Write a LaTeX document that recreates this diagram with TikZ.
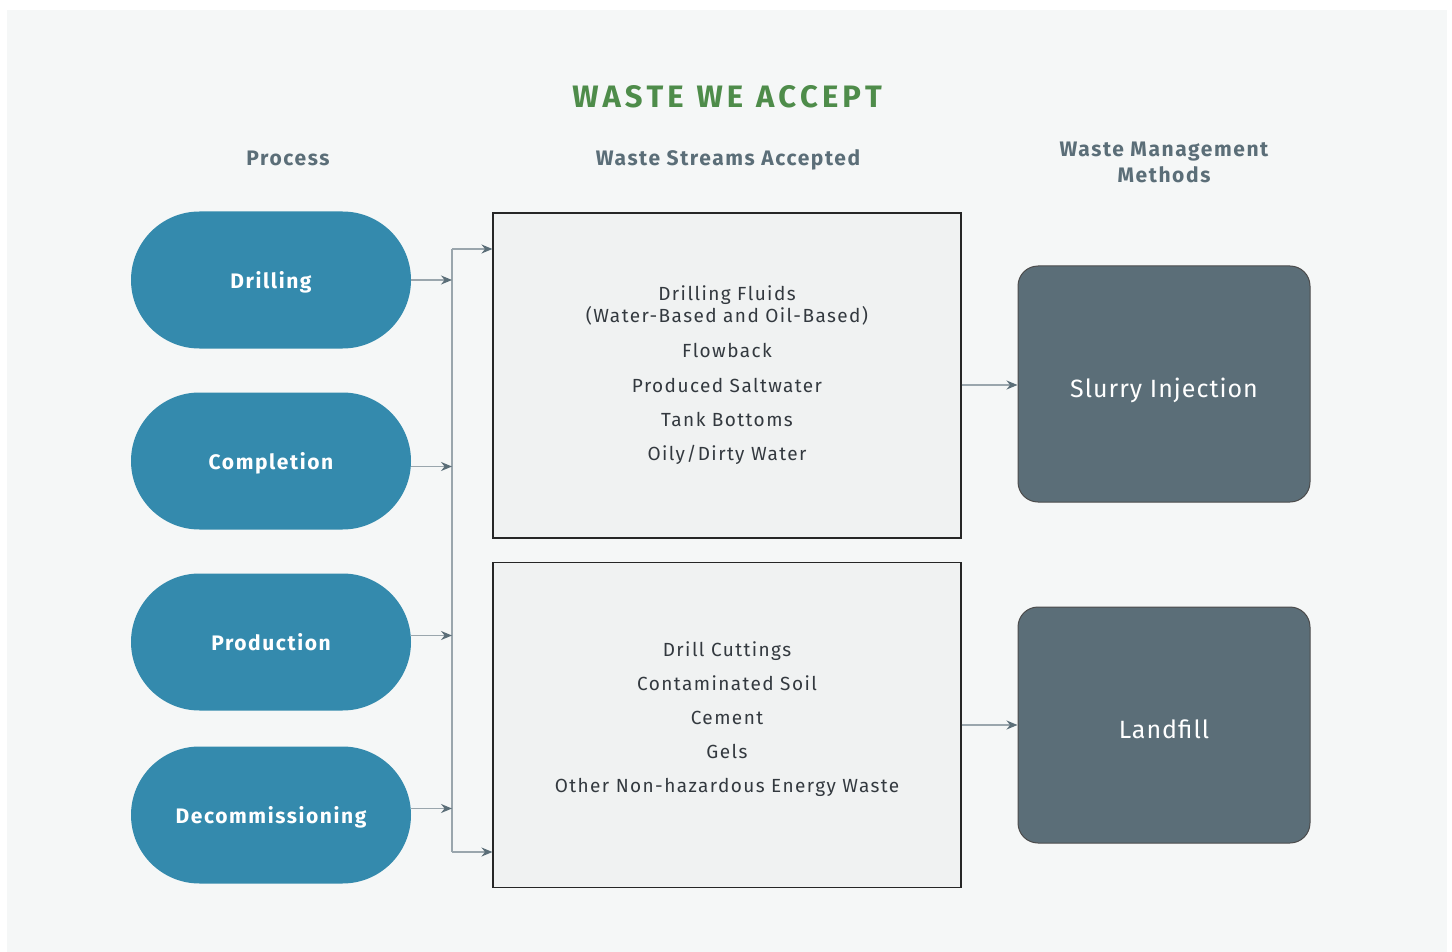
\documentclass[tikz,border=0pt]{standalone}
\usepackage{fontspec}
\setmainfont{Fira Sans}
\usetikzlibrary{arrows.meta,shapes.misc}
\definecolor{bg}{HTML}{F5F7F7}
\definecolor{pill}{HTML}{348AAD}
\definecolor{boxfill}{HTML}{F0F2F2}
\definecolor{method}{HTML}{5B6E78}
\definecolor{head}{HTML}{5B6E78}
\definecolor{titlegreen}{HTML}{4E8C4A}
\definecolor{linec}{HTML}{9AA6AD}
\definecolor{tipc}{HTML}{5B6E78}
\definecolor{txt}{HTML}{33393F}
\newfontfamily\wideface[LetterSpace=7.5]{Fira Sans}
\newfontfamily\midface[LetterSpace=4]{Fira Sans}
\tikzset{
  pillnode/.style={rounded rectangle, fill=pill, minimum width=280, minimum height=137, text=white, font=\wideface\fontsize{21}{24}\selectfont\bfseries, inner sep=0, text height=20pt, text depth=3.5pt},
  streambox/.style={draw=black!85, line width=1.1, fill=boxfill, minimum width=468, minimum height=325, inner sep=0},
  methodbox/.style={draw=black!70, line width=1, fill=method, rounded corners=20, minimum width=292, minimum height=236, inner sep=0},
  methodtext/.style={text=white, font=\midface\fontsize{25}{28}\selectfont},
  heading/.style={text=head, font=\wideface\fontsize{21}{26}\selectfont\bfseries, align=center},
  conn/.style={draw=linec, line width=1.5, -{Stealth[length=11,width=9,fill=tipc,color=tipc]}},
  plainline/.style={draw=linec, line width=1.5},
  itemtext/.style={text=txt, font=\wideface\fontsize{19}{23}\selectfont, align=center},
  singleitem/.style={itemtext, text height=14pt, text depth=4pt}
}
\begin{document}
\begin{tikzpicture}[x=1pt,y=-1pt]
\useasboundingbox (0,0) rectangle (1452,952);
\fill[white] (0,0) rectangle (1452,952);
\fill[bg] (7,10) rectangle (1447,952);
\node[text=titlegreen, font=\fontsize{31}{34}\selectfont\bfseries] (title) at (727,97) {W\kern4pt A\kern4pt S\kern4pt T\kern4pt E\kern13pt W\kern4pt E\kern13pt A\kern4pt C\kern4pt C\kern4pt E\kern4pt P\kern4pt T};
\node[heading] (hproc) at (288,158) {Process};
\node[heading] (hstream) at (728,160) {Waste Streams Accepted};
\node[heading] (hmeth) at (1164,162) {Waste Management\\Methods};
\node[pillnode] (drill) at (271,280) {Drilling};
\node[pillnode] (comp) at (271,461) {Completion};
\node[pillnode] (prod) at (271,642) {Production};
\node[pillnode] (decom) at (271,815) {Decommissioning};
\node[streambox] (box1) at (727,375.5) {};
\node[streambox] (box2) at (727,725) {};
\node[methodbox] (slurry) at (1164,384) {};
\node[methodbox] (land) at (1164,725) {};
\node[methodtext] (slurryt) at (1164,390) {Slurry Injection};
\node[methodtext] (landt) at (1164,729) {Landfill};
\node[itemtext] (t1) at (727,305) {Drilling Fluids\\[-1pt](Water-Based and Oil-Based)};
\node[singleitem] (t2) at (727,352) {Flowback};
\node[singleitem] (t3) at (727,387) {Produced Saltwater};
\node[singleitem] (t4) at (727,421) {Tank Bottoms};
\node[singleitem] (t5) at (727,455) {Oily/Dirty Water};
\node[singleitem] (u1) at (727,651) {Drill Cuttings};
\node[singleitem] (u2) at (727,685) {Contaminated Soil};
\node[singleitem] (u3) at (727,719) {Cement};
\node[singleitem] (u4) at (727,753) {Gels};
\node[singleitem] (u5) at (727,787) {Other Non-hazardous Energy Waste};
\coordinate (bt) at (452,249);
\coordinate (bb) at (452,852);
\draw[plainline] (bt) -- (bb);
\draw[conn] (drill.east) -- (drill.east -| bt);
\draw[conn] ([yshift=-5.5]comp.east) -- ([yshift=-5.5]comp.east -| bt);
\draw[conn] ([yshift=6.5]prod.east) -- ([yshift=6.5]prod.east -| bt);
\draw[conn] ([yshift=6.5]decom.east) -- ([yshift=6.5]decom.east -| bt);
\draw[conn] (bt) -- (bt -| box1.west);
\draw[conn] (bb) -- (bb -| box2.west);
\draw[conn] ([yshift=-1]box1.east |- slurry.west) -- ([yshift=-1]slurry.west);
\draw[conn] (box2.east |- land.west) -- (land.west);
\end{tikzpicture}
\end{document}
